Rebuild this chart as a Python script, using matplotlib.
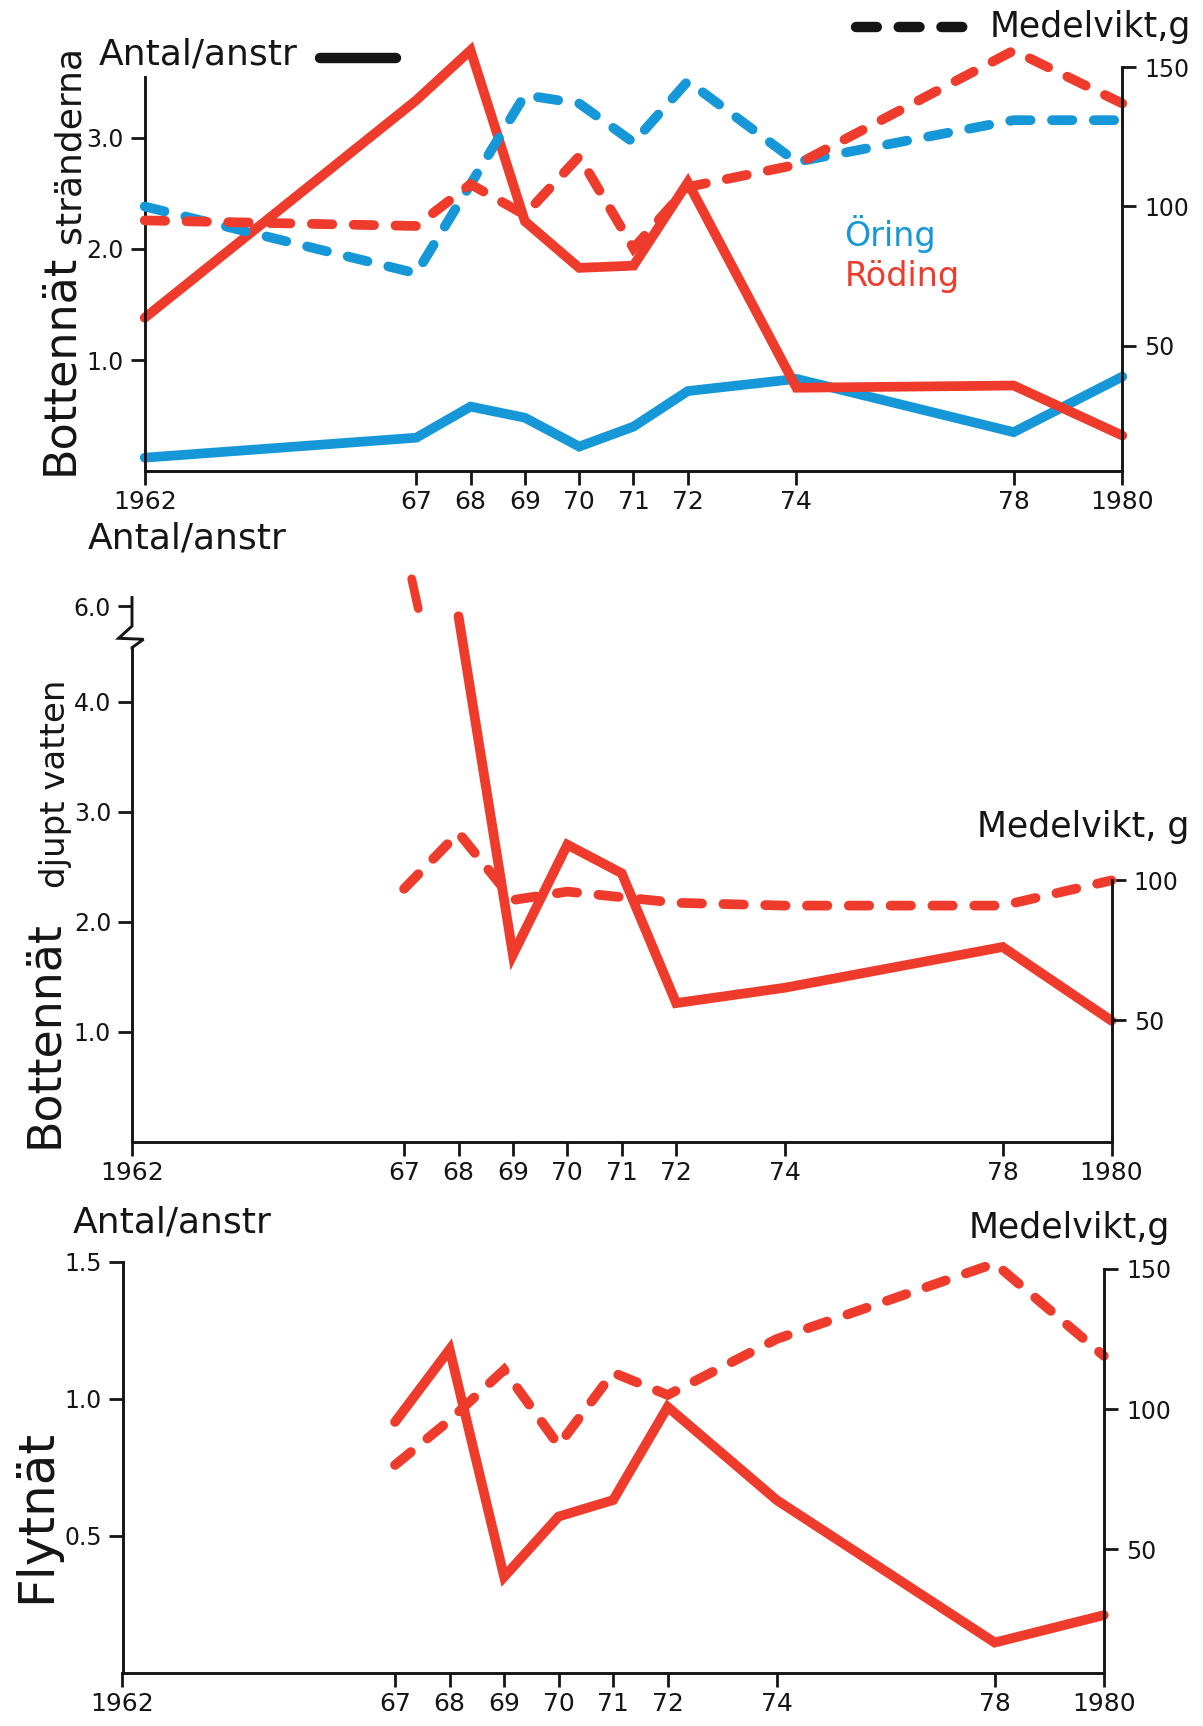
import numpy as np
import matplotlib
matplotlib.use("Agg")
import matplotlib.pyplot as plt
from matplotlib.lines import Line2D

plt.rcParams['font.family'] = ['DejaVu Sans']

# ---------------- data ----------------
years = [1962, 1967, 1968, 1969, 1970, 1971, 1972, 1974, 1978, 1980]
year_labels = ["1962", "67", "68", "69", "70", "71", "72", "74", "78", "1980"]
nan = np.nan

# Panel 1: Bottennät stränderna
shore_roding_antal = [1.38, 3.34, 3.79, 2.25, 1.83, 1.85, 2.60, 0.75, 0.77, 0.32]
shore_oring_antal = [0.12, 0.30, 0.58, 0.48, 0.22, 0.40, 0.72, 0.83, 0.35, 0.85]
shore_roding_vikt = [95, 93, 108, 97, 118, 85, 107, 115, 156, 137]
shore_oring_vikt = [100, 76, nan, 140, 137, 123, 145, 116, 131, 131]

# Panel 2: Bottennät djupt vatten
deep_roding_antal = [nan, nan, 5.91, 1.70, 2.70, 2.44, 1.26, 1.40, 1.77, 1.10]
deep_roding_vikt = [nan, 97, 117, 93, 96, 94, 92, 91, 91, 100]
deep_offscale_years = [1967.14, 1967.26]
deep_offscale_antal = [6.25, 5.98]

# Panel 3: Flytnät
float_roding_antal = [nan, 0.915, 1.18, 0.35, 0.57, 0.63, 0.97, 0.63, 0.11, 0.21]
float_roding_vikt = [nan, 80, 96, 114, 87, 113, 105, 125, 152, 119]

left_ticks_1 = [1.0, 2.0, 3.0]
left_ticks_2 = [1.0, 2.0, 3.0, 4.0, 6.0]
left_ticks_3 = [0.5, 1.0, 1.5]
right_ticks_1 = [50, 100, 150]
right_ticks_2 = [50, 100]
right_ticks_3 = [50, 100, 150]

# ---------------- style ----------------
W, H, DPI = 1203, 1726, 100
RED = "#EE3B2B"
BLUE = "#1597D8"
INK = "#151515"
LW = 7.0
DASH = (2.1, 2.2)
SPINE_LW = 2.1

fig = plt.figure(figsize=(W / DPI, H / DPI), dpi=DPI)
fig.patch.set_facecolor("white")


def make_axes(x0, x1, ybot, ytop):
    return fig.add_axes([x0 / W, 1 - ybot / H, (x1 - x0) / W, (ybot - ytop) / H])


def right_limits(ybot, ytop, zero_px, px_per_unit):
    return ((zero_px - ybot) / px_per_unit, (zero_px - ytop) / px_per_unit)


def ftext(x, y, s, **kw):
    kw.setdefault("color", INK)
    fig.text(x / W, 1 - y / H, s, **kw)


def style_pair(ax, axr, lt, rt, lbounds, rtop):
    for a in (ax, axr):
        a.set_facecolor("none")
        a.spines["top"].set_visible(False)
    ax.spines["right"].set_visible(False)
    axr.spines["left"].set_visible(False)
    axr.spines["bottom"].set_visible(False)
    for sp in ("left", "bottom"):
        ax.spines[sp].set_linewidth(SPINE_LW)
        ax.spines[sp].set_color(INK)
    axr.spines["right"].set_linewidth(SPINE_LW)
    axr.spines["right"].set_color(INK)
    ax.set_xlim(1962, 1980)
    ax.set_xticks(years)
    ax.set_xticklabels(year_labels)
    ax.tick_params(axis="x", direction="out", length=10, width=2.0,
                   labelsize=18, pad=4, colors=INK)
    ax.set_yticks(lt)
    ax.set_yticklabels([f"{v:.1f}" for v in lt])
    ax.tick_params(axis="y", direction="out", length=10, width=2.0,
                   labelsize=17, pad=5, colors=INK)
    axr.set_yticks(rt)
    axr.set_yticklabels([f"{v:d}" for v in rt])
    axr.tick_params(axis="y", direction="out", length=10, width=2.0,
                    labelsize=17, pad=6, colors=INK)
    ax.spines["left"].set_bounds(*lbounds)
    axr.spines["right"].set_bounds(axr.get_ylim()[0], rtop)


def plot_series(ax, y, color, dashed=False):
    x = np.array(years, float)
    y = np.array(y, float)
    m = np.isfinite(y)
    kw = dict(color=color, lw=LW, solid_capstyle="round", solid_joinstyle="miter",
              dash_capstyle="round", dash_joinstyle="miter", clip_on=False)
    if dashed:
        kw["linestyle"] = (0, DASH)
    ax.plot(x[m], y[m], **kw)


# ---------------- Panel 1 ----------------
p1 = (144.7, 1122.3, 471.0, 40.0)
ax1 = make_axes(*p1)
ax1r = ax1.twinx()
ax1.set_ylim(0, (p1[2] - p1[3]) / 111.0)
ax1r.set_ylim(*right_limits(p1[2], p1[3], 485.0, 2.785))
plot_series(ax1, shore_oring_antal, BLUE)
plot_series(ax1, shore_roding_antal, RED)
plot_series(ax1r, shore_oring_vikt, BLUE, dashed=True)
plot_series(ax1r, shore_roding_vikt, RED, dashed=True)
style_pair(ax1, ax1r, left_ticks_1, right_ticks_1, (0, 3.55), 150)

# ---------------- Panel 2 (broken left axis) ----------------
lo, hi, c = 4.49, 5.82, 0.148
tb = lo + (hi - lo) * c


def fwd(v):
    v = np.asarray(v, float)
    return np.where(v <= lo, v, np.where(v >= hi, tb + (v - hi), lo + (v - lo) * c))


def inv(t):
    t = np.asarray(t, float)
    return np.where(t <= lo, t, np.where(t >= tb, hi + (t - tb), lo + (t - lo) / c))


p2_bot, p2_scale, p2_top_val = 1141.7, 110.0, 6.3
p2_top = p2_bot - p2_scale * float(fwd(p2_top_val))
ax2 = make_axes(132.0, 1111.5, p2_bot, p2_top)
ax2.set_yscale("function", functions=(fwd, inv))
ax2r = ax2.twinx()
ax2.set_ylim(0, p2_top_val)
ax2r.set_ylim(*right_limits(p2_bot, p2_top, 1160.4, 2.8))
plot_series(ax2, deep_roding_antal, RED)
ax2.plot(deep_offscale_years, deep_offscale_antal, color=RED, lw=LW * 0.9,
         solid_capstyle="round", clip_on=False)
plot_series(ax2r, deep_roding_vikt, RED, dashed=True)
style_pair(ax2, ax2r, left_ticks_2, right_ticks_2, (0, lo), 100)
yt = ax2.get_yaxis_transform()
zig_v1 = inv((p2_bot - 638.3) / p2_scale)
zig_v2 = inv((p2_bot - 639.3) / p2_scale)
ax2.plot([0, 0, -0.0137, 0.0118, 0, 0],
         [6.08, hi, zig_v1, zig_v2, lo + 0.01, lo], transform=yt, color=INK,
         lw=SPINE_LW, clip_on=False, solid_joinstyle="miter")

# ---------------- Panel 3 ----------------
p3 = (122.5, 1103.8, 1672.7, 1255.0)
ax3 = make_axes(*p3)
ax3r = ax3.twinx()
ax3.set_ylim(0, (p3[2] - p3[3]) / 274.0)
ax3r.set_ylim(*right_limits(p3[2], p3[3], 1689.0, 2.8))
plot_series(ax3, float_roding_antal, RED)
plot_series(ax3r, float_roding_vikt, RED, dashed=True)
style_pair(ax3, ax3r, left_ticks_3, right_ticks_3, (0, 1.5), 150)

# ---------------- texts ----------------
big = dict(rotation=90, rotation_mode="anchor", ha="left", va="baseline")
ftext(72, 475, "Bottennät", fontsize=32, **big)
ftext(80, 243, "stränderna", fontsize=26, **big)
ftext(99, 65, "Antal/anstr", fontsize=26, ha="left", va="baseline")
ftext(990, 37, "Medelvikt,g", fontsize=25, ha="left", va="baseline")
ftext(844, 246, "Öring", fontsize=24, ha="left", va="baseline", color=BLUE)
ftext(845, 286, "Röding", fontsize=24, ha="left", va="baseline", color=RED)

ftext(88, 548, "Antal/anstr", fontsize=26, ha="left", va="baseline")
ftext(57, 1148, "Bottennät", fontsize=33, **big)
ftext(65, 888, "djupt vatten", fontsize=24.5, **big)
ftext(977, 837, "Medelvikt, g", fontsize=25, ha="left", va="baseline")

ftext(73, 1232, "Antal/anstr", fontsize=26, ha="left", va="baseline")
ftext(50, 1603, "Flytnät", fontsize=36, **big)
ftext(969, 1238, "Medelvikt,g", fontsize=25, ha="left", va="baseline")

# legend keys
fig.add_artist(Line2D([320 / W, 396 / W], [1 - 58 / H, 1 - 58 / H],
                      transform=fig.transFigure, color=INK, lw=7.5,
                      solid_capstyle="round"))
fig.add_artist(Line2D([856 / W, 969 / W], [1 - 27 / H, 1 - 27 / H],
                      transform=fig.transFigure, color=INK, lw=7.5,
                      linestyle=(0, (2.0, 2.1)), dash_capstyle="round"))

fig.savefig("out.png", dpi=DPI, facecolor="white")
